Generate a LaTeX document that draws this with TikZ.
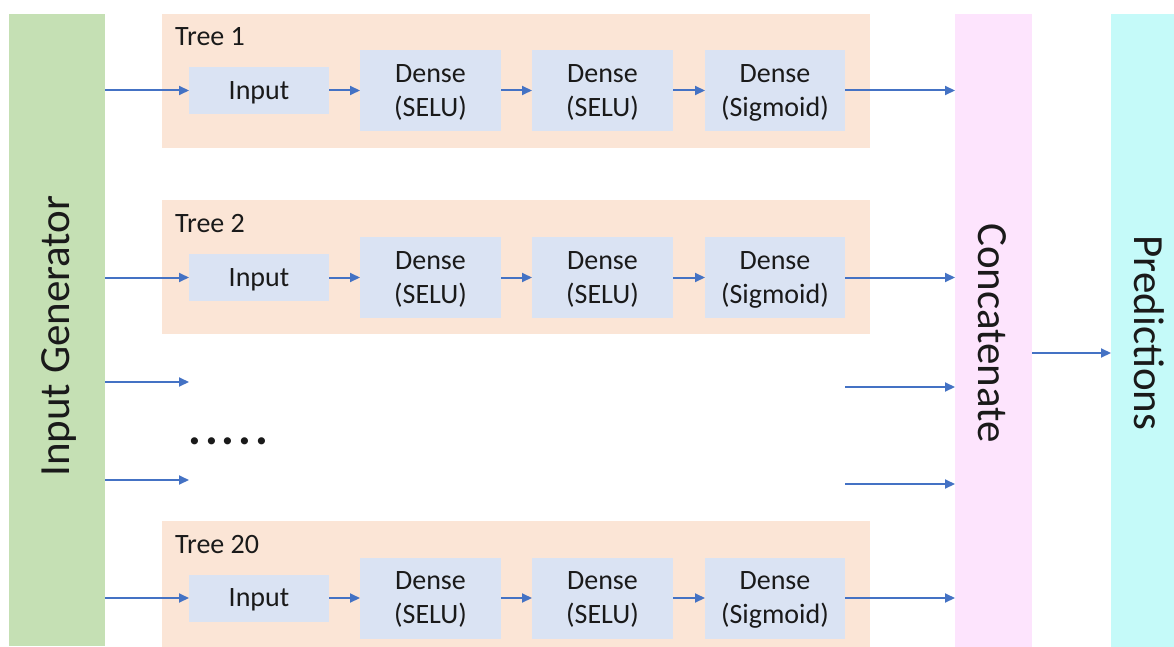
\documentclass[tikz,border=0pt]{standalone}
\usepackage{fontspec}
\setmainfont{Carlito}
\usetikzlibrary{arrows.meta,calc}
\definecolor{gengreen}{HTML}{C5E0B4}
\definecolor{treepeach}{HTML}{FBE5D6}
\definecolor{layerblue}{HTML}{DAE3F3}
\definecolor{catpink}{HTML}{FDE4FD}
\definecolor{predcyan}{HTML}{C5FAF9}
\definecolor{arrowblue}{HTML}{4472C4}
\definecolor{txt}{HTML}{1A1A1A}
\tikzset{
  panel/.style={draw=none, inner sep=0pt, outer sep=0pt},
  treebox/.style={panel, fill=treepeach, minimum width=708pt, minimum height=134pt},
  layer/.style={panel, fill=layerblue, minimum height=81pt, minimum width=141pt, align=center, text=txt,
    text depth=0pt, font=\fontsize{28}{34}\selectfont},
  inbox/.style={layer, minimum height=47pt, minimum width=140pt},
  treelabel/.style={anchor=base west, inner sep=0pt, text=txt, font=\fontsize{28}{34}\selectfont},
  biglabel/.style={inner sep=0pt, text=txt, font=\fontsize{43}{50}\selectfont},
  arr/.style={draw=arrowblue, line width=2pt, -{Triangle[length=10pt,width=9pt]}}
}
\begin{document}
\begin{tikzpicture}[x=1pt,y=-1pt]
\useasboundingbox (0,0) rectangle (1174,647);
% big columns
\node[panel, fill=gengreen, minimum width=96pt, minimum height=632pt] (gen) at (57,330) {};
\node[biglabel, rotate=90] (genlabel) at (59,336) {Input Generator};
\node[panel, fill=catpink, minimum width=77pt, minimum height=633pt] (cat) at (993.5,330.5) {};
\node[biglabel, rotate=-90] (catlabel) at (992,333) {Concatenate};
\node[panel, fill=predcyan, minimum width=63pt, minimum height=633pt] (pred) at (1142.5,330.5) {};
\node[biglabel, rotate=-90] (predlabel) at (1149,333) {Predictions};
% trees
\foreach \t/\yc/\h/\yl/\lab in {a/81/134/90.5/Tree 1, b/267/134/277.5/Tree 2, c/584/126/598/Tree 20}{
  \node[treebox, minimum height=\h pt] (tree\t) at (516,\yc) {};
  \node[treelabel] (lab\t) at ($(tree\t.north west)+(13,32)$) {\lab};
  \node[inbox] (in\t) at (259,\yl) {Input};
  \node[layer] (da\t) at (430.5,\yl) {Dense\\(SELU)};
  \node[layer] (db\t) at (602.5,\yl) {Dense\\(SELU)};
  \node[layer, minimum width=140pt] (dc\t) at (775,\yl) {Dense\\(Sigmoid)};
  \draw[arr] (gen.east |- in\t.west) -- (in\t.west);
  \draw[arr] (in\t.east) -- (da\t.west |- in\t.east);
  \draw[arr] (da\t.east) -- (db\t.west);
  \draw[arr] (db\t.east) -- (dc\t.west);
  \draw[arr] (dc\t.east) -- (cat.west |- dc\t.east);
}
% middle arrows (elided trees)
\coordinate (m1) at (189,382);
\coordinate (m2) at (189,480);
\coordinate (r1) at (845,387);
\coordinate (r2) at (845,484);
\draw[arr] (gen.east |- m1) -- (m1);
\draw[arr] (gen.east |- m2) -- (m2);
\draw[arr] (r1) -- (cat.west |- r1);
\draw[arr] (r2) -- (cat.west |- r2);
\node[inner sep=0pt, anchor=base west, text=txt, font=\fontsize{48}{50}\selectfont\bfseries] (dots) at (188,444) {.\kern4pt.\kern4pt.\kern4pt.\kern4pt.};
% concat to predictions
\coordinate (cp) at (1000,353);
\draw[arr] (cat.east |- cp) -- (pred.west |- cp);
\end{tikzpicture}
\end{document}
